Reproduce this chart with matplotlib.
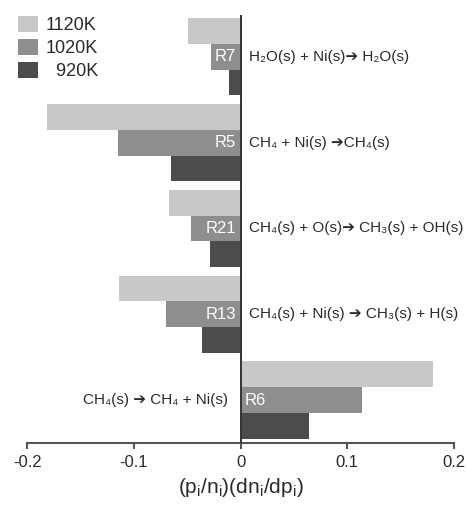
import matplotlib
matplotlib.use("Agg")
import matplotlib.pyplot as plt
from matplotlib.patches import Patch

plt.rcParams['font.family'] = ['Liberation Sans', 'DejaVu Sans']
plt.rcParams['mathtext.fontset'] = 'custom'
plt.rcParams['mathtext.rm'] = 'Liberation Sans'
plt.rcParams['mathtext.it'] = 'Liberation Sans:italic'
plt.rcParams['mathtext.default'] = 'regular'

# reactions, top to bottom
rlabels = ['R7', 'R5', 'R21', 'R13', 'R6']
reactions = [
    'H₂O(s) + Ni(s)➔ H₂O(s)',
    'CH₄ + Ni(s) ➔CH₄(s)',
    'CH₄(s) + O(s)➔ CH₃(s) + OH(s)',
    'CH₄(s) + Ni(s) ➔ CH₃(s) + H(s)',
    'CH₄(s) ➔ CH₄ + Ni(s)',
]
temps = ['1120K', '1020K', '\u2007920K']
v1120 = [-0.049, -0.181, -0.067, -0.114, 0.180]
v1020 = [-0.028, -0.115, -0.046, -0.070, 0.114]
v920 = [-0.011, -0.065, -0.029, -0.036, 0.064]

colors = ['#c8c8c8', '#8e8e8e', '#4c4c4c']
txtcol = '#2a2a2a'

fig = plt.figure(figsize=(4.67, 5.08), dpi=100)
ax = fig.add_axes([0.058, 0.128, 0.914, 0.842])

n = len(rlabels)
ypos = [n - 1 - i for i in range(n)]
h = 0.3
for vals, off, c in zip([v1120, v1020, v920], [h, 0, -h], colors):
    ax.barh([y + off for y in ypos], vals, height=h, color=c, edgecolor='none')

ax.axvline(0, color='#333333', lw=1.4, zorder=3)

for i, y in enumerate(ypos):
    neg = v1020[i] < 0
    ax.text(-0.004 if neg else 0.004, y, rlabels[i], color='white', fontsize=12,
            ha='right' if neg else 'left', va='center', zorder=4)
    if neg:
        ax.text(0.0075, y, reactions[i], color=txtcol, fontsize=11,
                ha='left', va='center')
    else:
        ax.text(-0.012, y, reactions[i], color=txtcol, fontsize=11,
                ha='right', va='center')

ax.set_xlim(-0.2, 0.2)
ax.set_ylim(-0.5, 4.485)
ax.set_xticks([-0.2, -0.1, 0, 0.1, 0.2])
ax.set_xticklabels(['-0.2', '-0.1', '0', '0.1', '0.2'])
ax.set_yticks([])
for s in ['left', 'top', 'right']:
    ax.spines[s].set_visible(False)
ax.spines['bottom'].set_color('#555555')
ax.spines['bottom'].set_linewidth(1.5)
ax.tick_params(axis='x', direction='out', length=4, width=1.5, color='#555555',
               labelsize=12, labelcolor=txtcol, pad=5)
ax.set_xlabel(r'(p$_i$/n$_i$)(dn$_i$/dp$_i$)', fontsize=15, color=txtcol, labelpad=4)

handles = [Patch(facecolor=c, edgecolor='none') for c in colors]
ax.legend(handles, temps, loc='upper left', bbox_to_anchor=(-0.038, 1.015), frameon=False,
          fontsize=13, handlelength=1.1, handleheight=1.0, handletextpad=0.45,
          labelspacing=0.25, borderaxespad=0, labelcolor=txtcol)

fig.savefig('out.png', dpi=100)
